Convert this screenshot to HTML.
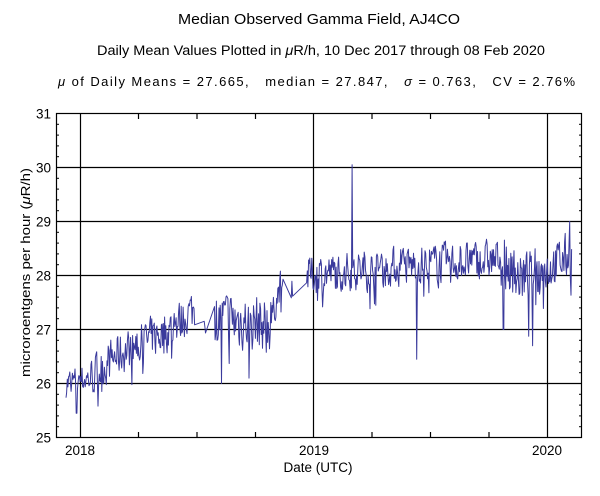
<!DOCTYPE html>
<html><head><meta charset="utf-8"><style>
body{margin:0;background:#fff;}
svg{display:block;font-family:"Liberation Sans",sans-serif;}
text{white-space:pre;}
</style></head><body>
<svg id="s" width="600" height="496" viewBox="0 0 600 496" xmlns="http://www.w3.org/2000/svg">
<rect width="600" height="496" fill="#fff"/>
<text x="178" y="24" font-size="15" textLength="282" lengthAdjust="spacingAndGlyphs">Median Observed Gamma Field, AJ4CO</text>
<text x="97" y="55" font-size="13.5" textLength="448" lengthAdjust="spacingAndGlyphs">Daily Mean Values Plotted in <tspan font-style="italic">μ</tspan>R/h, 10 Dec 2017 through 08 Feb 2020</text>
<text x="58" y="86" font-size="13" textLength="517" lengthAdjust="spacing"><tspan font-style="italic">μ</tspan> of Daily Means = 27.665,&#160;&#160;&#160;median = 27.847,&#160;&#160;&#160;<tspan font-style="italic">σ</tspan> = 0.763,&#160;&#160;&#160;CV = 2.76%</text>
<g id="grid" stroke="#000" stroke-width="1.2" fill="none"></g>
<polyline id="d" fill="none" stroke="#3a3a9c" stroke-width="1" stroke-linejoin="round" points=""/>
<rect x="56.5" y="113.5" width="525" height="324" fill="none" stroke="#000" stroke-width="1.2"/>
<g font-size="13.5" text-anchor="end" id="yl"></g>
<g font-size="13.5" text-anchor="middle">
<text x="80" y="455">2018</text><text x="314" y="455">2019</text><text x="547" y="455">2020</text>
<text x="318" y="472">Date (UTC)</text>
</g>
<text transform="translate(30,377) rotate(-90)" font-size="13" textLength="209" lengthAdjust="spacingAndGlyphs">microroentgens per hour (<tspan font-style="italic">μ</tspan>R/h)</text>
</svg>
<script>
var g=document.getElementById('grid'),ns='http://www.w3.org/2000/svg';
function L(x1,y1,x2,y2,w){var l=document.createElementNS(ns,'line');l.setAttribute('x1',x1);l.setAttribute('y1',y1);l.setAttribute('x2',x2);l.setAttribute('y2',y2);if(w)l.setAttribute('stroke-width',w);g.appendChild(l);}
function Y(v){return 437.5-(v-25)*54;}
for(var v=26;v<=30;v++)L(56.5,Y(v),581.5,Y(v));
[80.5,313.5,547.5].forEach(function(x){L(x,113.5,x,437.5);});
[138.5,197,255.5,372,430.5,489].forEach(function(x){L(x,113.5,x,119);L(x,432,x,437.5);});
for(var i=1;i<30;i++){if(i%5==0)continue;var y=437.5-i*10.8;L(56.5,y,59,y,1);L(579,y,581.5,y,1);}
var yl=document.getElementById('yl');
for(var v=25;v<=31;v++){var t=document.createElementNS(ns,'text');t.setAttribute('x',51);t.setAttribute('y',Y(v)+5);t.textContent=v;yl.appendChild(t);}
var seed=7;function r(){seed=(seed*16807)%2147483647;return seed/2147483647;}
function trend(x){var K=[[66,26.0],[90,26.1],[115,26.5],[170,27.0],[195,27.4],[205,27.4],[215,27.2],[270,27.1],[280,27.8],[307,28.0],[420,28.2],[500,28.3],[520,27.95],[545,28.1],[572,28.4]];
for(var i=0;i<K.length-1;i++)if(x<=K[i+1][0]){var a=K[i],b=K[i+1];return a[1]+(b[1]-a[1])*(x-a[0])/(b[0]-a[0]);}return 28.4;}
function amp(x){if(x<90)return .28;if(x<200)return .38;if(x<272)return .52;if(x<290)return .28;if(x<500)return .36;if(x<545)return .48;return .42;}
var gaps=[[195,204],[206,214],[283,291],[293,306]];
var pts=[],sm=0;
for(var x=66;x<=572;x+=0.64){var skip=false;gaps.forEach(function(gp){if(x>gp[0]&&x<gp[1])skip=true;});if(skip)continue;
sm=0.25*sm+0.75*(r()*2-1);
var v=trend(x)+sm*amp(x)*1.25+(r()<.07?-(r()*amp(x)*1.4):0);
if(Math.abs(x-76.5)<.4)v=25.45;if(Math.abs(x-352)<.4)v=30.05;if(Math.abs(x-416.5)<.4)v=26.45;
if(Math.abs(x-503.5)<.4)v=27.0;if(Math.abs(x-532.5)<.4)v=26.7;if(Math.abs(x-569.5)<.4)v=29.0;
if(Math.abs(x-221.5)<.4)v=26.0;if(Math.abs(x-249)<.4)v=26.1;if(Math.abs(x-270.6)<.4)v=27.5;
pts.push(x.toFixed(1)+','+Y(v).toFixed(1));}
document.getElementById('d').setAttribute('points',pts.join(' '));
</script>
</body></html>
